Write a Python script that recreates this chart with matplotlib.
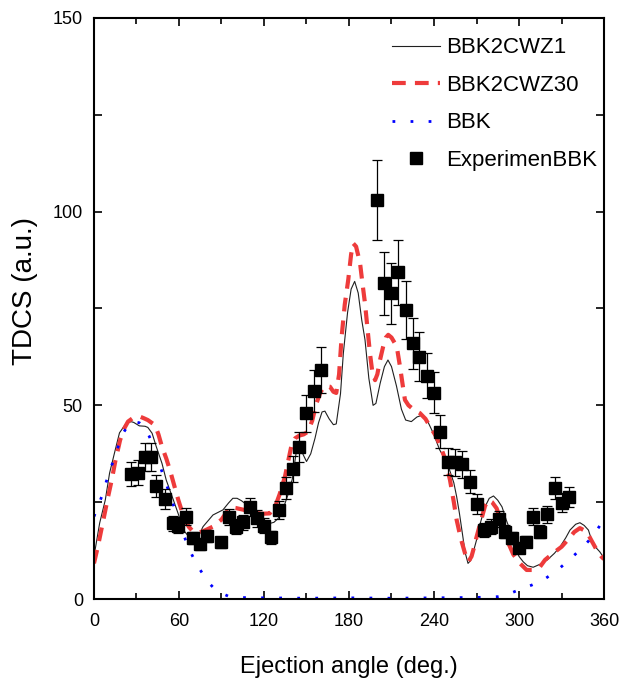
import matplotlib
matplotlib.use('Agg')
import matplotlib.pyplot as plt
from matplotlib.ticker import MultipleLocator

plt.rcParams['font.family'] = ['Liberation Sans', 'DejaVu Sans']

# experimental points
exp_angle = [26, 31, 36, 40, 44, 50, 56, 59.5, 65, 70, 75, 80, 90, 95, 100, 105, 110,
             115, 120, 125, 130.6, 135.5, 140.5, 145, 150, 155, 160,
             200, 204.5, 209.5, 214.5, 220, 225, 229.5, 235, 240, 244.5, 250, 255,
             260, 265.5, 270, 275, 280, 286, 290, 295, 300, 305, 310, 315, 320,
             325.5, 330.5, 335.5]
exp_tdcs = [32.3, 32.6, 36.7, 36.7, 29.2, 25.9, 19.5, 18.9, 21.3, 15.7, 14.1, 16.3, 14.6,
            21.1, 18.7, 19.8, 23.8, 20.8, 18.9, 15.9, 23.0, 28.7, 33.5, 39.2, 47.9,
            53.8, 59.1,
            103.0, 81.5, 78.9, 84.3, 74.6, 66.0, 62.6, 57.7, 53.3, 43.2, 35.5, 35.3,
            34.8, 30.3, 24.5, 17.8, 18.7, 20.6, 17.4, 15.7, 13.1, 14.8, 21.3, 17.4,
            21.9, 28.6, 24.9, 26.4]
exp_err = [3.2, 3.2, 3.7, 3.7, 2.9, 2.6, 2.0, 1.9, 2.1, 1.6, 1.4, 1.6, 1.5,
           2.1, 1.9, 2.0, 2.4, 2.1, 1.9, 1.6, 2.3, 2.9, 3.4, 3.9, 4.8,
           5.4, 5.9,
           10.3, 8.2, 7.9, 8.4, 7.5, 6.6, 6.3, 5.8, 5.3, 4.3, 3.5, 3.5,
           3.5, 3.0, 2.5, 1.8, 1.9, 2.1, 1.7, 1.6, 1.3, 1.5, 2.1, 1.7,
           2.2, 2.9, 2.5, 2.6]

# BBK2CWZ1
z1_angle = [0, 4, 8, 11, 15, 18, 22, 26, 28, 32, 36, 38, 41, 44, 48, 51, 56, 61, 64, 68,
            71, 74, 77, 84, 91, 95, 98, 101, 104, 108, 115, 120, 124, 127, 130, 134,
            137, 140, 143, 145.5, 148, 150, 153, 156, 158.5, 161, 163, 166, 169, 171,
            174, 176, 179, 181.5, 184, 186.5, 189, 191.3, 194, 197, 199, 202, 205,
            207.5, 210, 213.5, 217, 220, 224, 228, 232, 236, 239.5, 244, 248, 251, 254,
            256, 258, 260, 262, 264, 266, 268, 270, 273, 276, 279, 282, 285, 288, 291,
            294, 297, 300, 303, 306, 310, 315, 320, 325, 329, 333, 336, 340, 343, 346,
            349, 351, 353, 357, 360]
z1_tdcs = [11, 19.6, 25.6, 32.5, 38.5, 42.9, 45, 45.8, 45.6, 44.7, 44.6, 44.3, 42.8, 39.3,
           35, 30.7, 25.6, 20.4, 17.4, 15.6, 15.2, 16.5, 18.7, 21.7, 23, 24.8, 26, 26,
           25.4, 24.3, 21.7, 20.2, 19.5, 19.8, 20.8, 23.8, 27, 31, 38.5, 39, 37, 35.5,
           37.5, 41.5, 45.5, 48.3, 48.5, 46.5, 45, 45.2, 53, 63.4, 74, 80, 82, 79, 72,
           66.9, 57, 50, 50.5, 55.7, 60, 61.7, 60, 55, 49, 46.2, 45.8, 47, 47.5, 45.5,
           42.8, 38.5, 36, 33.3, 30, 26.4, 22, 17, 12, 9.2, 10, 12.5, 15.2, 20, 23.8,
           26, 26.6, 25.5, 23.8, 20.4, 17.5, 13.5, 11, 9.6, 8.6, 8.2, 9, 10.1, 11.8,
           13.5, 15.8, 17.8, 19.3, 19.7, 19, 17.8, 15.5, 13.8, 12.2, 10.6]

# BBK2CWZ30
z30_angle = [0, 3, 6.6, 10, 12.5, 15, 18.4, 21, 24, 27, 30, 33, 35, 38, 43, 45.5, 48, 51,
             53.6, 56.5, 59.5, 62, 64.2, 67, 70, 73, 77, 80, 84, 90, 96, 100, 106, 112,
             118, 124, 128, 131, 134.8, 137, 139.5, 142, 145, 148, 151, 154, 157, 160,
             163, 166.6, 169, 171, 173, 174.8, 177, 179.5, 181.5, 183, 185, 187.8,
             189.5, 191.3, 193, 194.8, 196.5, 198.4, 200, 201.9, 204, 206, 207.7, 210,
             213.7, 216, 218, 219.5, 222, 226, 230, 234, 238, 241, 244, 248, 251.3, 254,
             256, 259, 261.9, 264.2, 266.5, 268, 270.1, 273, 276, 278.3, 281, 284.2,
             287, 290, 293, 296, 300.7, 305.4, 310, 314.8, 318.4, 324, 330.1, 335, 339,
             343, 347.8, 351, 354.8, 358.3, 360]
z30_tdcs = [9.2, 14, 20.4, 26.5, 30.7, 35.5, 41, 43.8, 45.8, 46.6, 47.1, 47, 46.7, 46.2,
            44.9, 42.5, 39.3, 36.3, 33.3, 29.5, 25.6, 22.7, 20.4, 18.6, 17.4, 17, 17.5,
            18, 18.7, 20.5, 23.7, 23.5, 23, 22.5, 22, 22.1, 24, 27, 31.6, 35.5, 39.8,
            41.5, 42.2, 42.5, 43.2, 46, 50.5, 53.5, 55, 54.8, 53.5, 53.2, 58, 67.7, 76,
            82.5, 89, 91.8, 91, 86.7, 81.5, 76.3, 70, 63.4, 58.5, 56.5, 58, 61.7, 65,
            67.5, 68.2, 67.5, 65.2, 60, 55, 51.4, 50, 48.8, 48, 46.5, 44, 42.3, 40, 36,
            30.7, 25, 20.4, 15.5, 11.8, 9.6, 11, 13, 16.1, 20, 24, 25.6, 25, 23.4, 20.5,
            17, 14, 11.5, 9.2, 7.5, 7.5, 8.3, 10.1, 11.8, 13.5, 15.5, 17.3, 18.3, 17.4,
            15.2, 12.7, 10.9, 10.3]

# BBK
bbk_angle = [0, 5.4, 10.1, 15.5, 19.5, 24, 27.8, 32, 36, 39, 42.4, 47.3, 52.5, 57.2, 62,
             67.3, 73.2, 80.7, 86, 91.3, 95, 100, 120, 150, 180, 210, 240, 270, 285,
             290.8, 299.5, 309, 317.9, 326.6, 335.5, 344.2, 352, 360]
bbk_tdcs = [21.3, 26.4, 32, 37.6, 42.2, 44.8, 45.8, 45.5, 44.2, 42, 38.9, 33.6, 28.1, 23,
            17.8, 12.7, 8.5, 4.3, 2.3, 1.3, 0.7, 0.4, 0.3, 0.2, 0.3, 0.2, 0.3, 0.4, 0.6,
            1.0, 2.3, 3.6, 5.1, 7.3, 10.1, 13.1, 16.1, 20.6]

fig = plt.figure(figsize=(6.2, 6.86), dpi=100)
ax = fig.add_axes([0.1516, 0.1268, 0.8226, 0.847])

ax.plot(z1_angle, z1_tdcs, '-', color='#202020', lw=0.8, label='BBK2CWZ1')
ax.plot(z30_angle, z30_tdcs, color='#ee3b3b', lw=3, dashes=(3.3, 2.2), label='BBK2CWZ30')
ax.plot(bbk_angle, bbk_tdcs, color='#0000ff', lw=2, dashes=(1, 5.5), label='BBK')
ax.errorbar(exp_angle, exp_tdcs, yerr=exp_err, fmt='none', ecolor='black',
            elinewidth=0.9, capsize=3.5, capthick=0.9)
ax.plot(exp_angle, exp_tdcs, 's', color='black', ms=8.5, ls='none', label='ExperimenBBK')

ax.set_xlim(0, 360)
ax.set_ylim(0, 150)
ax.xaxis.set_major_locator(MultipleLocator(60))
ax.xaxis.set_minor_locator(MultipleLocator(30))
ax.yaxis.set_major_locator(MultipleLocator(50))
ax.yaxis.set_minor_locator(MultipleLocator(25))
ax.tick_params(which='both', direction='in', top=True, right=True, width=1.2)
ax.tick_params(which='major', length=6)
ax.tick_params(axis='x', which='minor', length=4)
ax.tick_params(axis='y', which='minor', length=6)
ax.tick_params(axis='x', labelsize=13, pad=10)
ax.tick_params(axis='y', labelsize=13, pad=8)
for s in ax.spines.values():
    s.set_linewidth(1.5)

ax.set_xlabel('Ejection angle (deg.)', fontsize=17, labelpad=19)
ax.set_ylabel('TDCS (a.u.)', fontsize=20)
ax.yaxis.set_label_coords(-0.11, 0.53)

ax.legend(loc='upper right', bbox_to_anchor=(1.0, 0.978), frameon=False, fontsize=16,
          handlelength=2.16, handletextpad=0.3, labelspacing=0.74, numpoints=1,
          borderpad=0.1, borderaxespad=0.2)

fig.savefig('out.png', dpi=100)
